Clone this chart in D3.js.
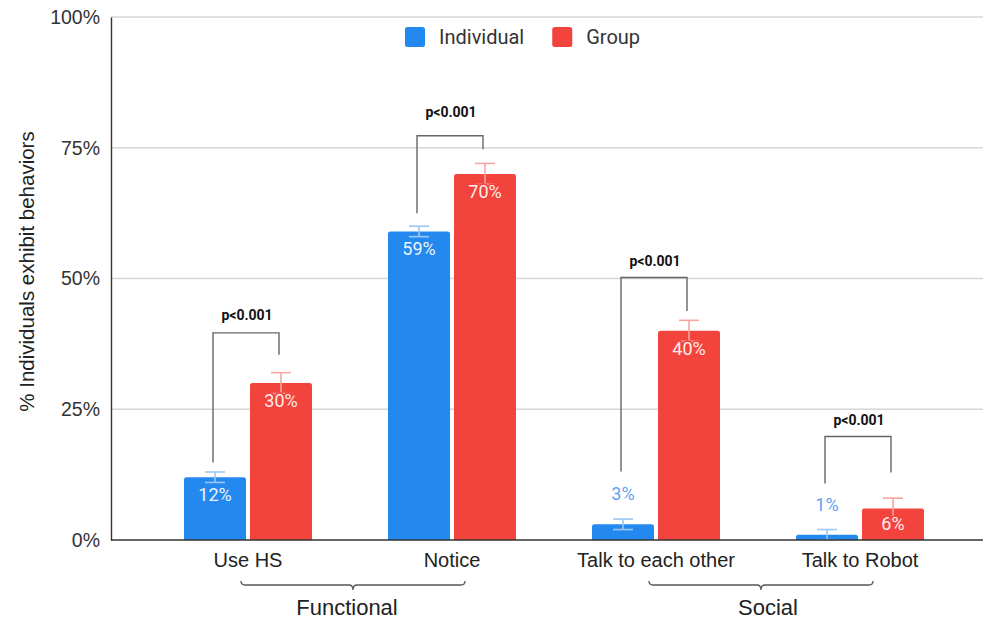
<!DOCTYPE html>
<html>
<head>
<meta charset="utf-8">
<script src="https://cdn.jsdelivr.net/npm/d3@7"></script>
<style>
  html, body { margin: 0; padding: 0; background: #fff; }
  svg { display: block; }
</style>
</head>
<body>
<svg id="chart" width="983" height="619"></svg>
<script>
// ---- data ----
const categories = ["Use HS", "Notice", "Talk to each other", "Talk to Robot"];
const series = ["Individual", "Group"];
const individual = [12, 59, 3, 1];
const group = [30, 70, 40, 6];
const individualErr = [1, 1, 1, 1];
const groupErr = [2, 2, 2, 2];
const yTicks = [0, 25, 50, 75, 100];

// significance brackets (levels in % units)
const pLabels = ["p<0.001", "p<0.001", "p<0.001", "p<0.001"];
const bracketTop = [39.6, 77.3, 50.2, 19.8];
const bracketLeftEnd = [14.8, 62.5, 13.1, 10.8];
const bracketRightEnd = [35.4, 74.7, 43.8, 12.9];
const pLabelLevel = [42.1, 80.9, 52.4, 22.0];

// category groups under the axis
const groupNames = ["Functional", "Social"];
const groupMembers = [["Use HS", "Notice"], ["Talk to each other", "Talk to Robot"]];

const colors = { Individual: "#2389EE", Group: "#F3433D" };
const errColors = { Individual: "#9EC6F7", Group: "#F8A5A0" };

// ---- layout ----
const svg = d3.select("#chart");
const plotLeft = 111, plotRight = 983, plotTop = 17, plotBottom = 540;
const axisFont = "'Liberation Sans', Arial, sans-serif";
const labelFont = "Roboto, 'Liberation Sans', Arial, sans-serif";

const y = d3.scaleLinear().domain([0, 100]).range([plotBottom, plotTop]);
const x0 = d3.scaleBand().domain(categories).range([146, 962]).padding(0);
const x1 = d3.scaleBand().domain(series).range([38, 166]).paddingInner(4 / 66);

const rows = categories.map((c, i) => ({
  cat: c,
  vals: [
    { s: "Individual", v: individual[i], e: individualErr[i] },
    { s: "Group", v: group[i], e: groupErr[i] }
  ]
}));

// gridlines
svg.append("g")
  .selectAll("line")
  .data(yTicks.filter(t => t > 0))
  .join("line")
  .attr("x1", plotLeft).attr("x2", plotRight)
  .attr("y1", d => y(d)).attr("y2", d => y(d))
  .attr("stroke", "#d6d6d6").attr("stroke-width", 1.3);

// y axis
const yAxis = svg.append("g")
  .attr("transform", `translate(${plotLeft},0)`)
  .call(d3.axisLeft(y).tickValues(yTicks).tickSize(0).tickPadding(11).tickFormat(d => d + "%"));
yAxis.select(".domain").attr("stroke", "#333").attr("stroke-width", 1.4);
yAxis.selectAll("text")
  .attr("font-family", axisFont).attr("font-size", "19.5px").attr("fill", "#333");

// y title
svg.append("text")
  .attr("transform", `translate(34,${(plotTop + plotBottom) / 2 - 7}) rotate(-90)`)
  .attr("text-anchor", "middle")
  .attr("font-family", axisFont).attr("font-size", "20.5px").attr("fill", "#222")
  .text("% Individuals exhibit behaviors");

// bars with slightly rounded tops
function barPath(x, w, yTop, yBase, r) {
  const h = yBase - yTop;
  r = Math.min(r, h / 2, w / 2);
  return `M${x},${yBase}V${yTop + r}Q${x},${yTop} ${x + r},${yTop}H${x + w - r}Q${x + w},${yTop} ${x + w},${yTop + r}V${yBase}Z`;
}

const catG = svg.append("g").selectAll("g")
  .data(rows).join("g")
  .attr("transform", d => `translate(${x0(d.cat)},0)`);

catG.selectAll("path.bar")
  .data(d => d.vals).join("path")
  .attr("class", "bar")
  .attr("fill", d => colors[d.s])
  .attr("d", d => barPath(x1(d.s), x1.bandwidth(), y(d.v), y(0), 2.5));

// error bars
const capW = 20;
const errG = catG.selectAll("g.err").data(d => d.vals).join("g")
  .attr("class", "err")
  .attr("stroke", d => errColors[d.s]).attr("stroke-width", 1.6);
errG.append("line")
  .attr("x1", d => x1(d.s) + x1.bandwidth() / 2).attr("x2", d => x1(d.s) + x1.bandwidth() / 2)
  .attr("y1", d => y(Math.max(0, d.v - d.e))).attr("y2", d => y(d.v + d.e));
errG.append("line")
  .attr("x1", d => x1(d.s) + x1.bandwidth() / 2 - capW / 2).attr("x2", d => x1(d.s) + x1.bandwidth() / 2 + capW / 2)
  .attr("y1", d => y(d.v + d.e)).attr("y2", d => y(d.v + d.e));
errG.append("line")
  .attr("x1", d => x1(d.s) + x1.bandwidth() / 2 - capW / 2).attr("x2", d => x1(d.s) + x1.bandwidth() / 2 + capW / 2)
  .attr("y1", d => y(Math.max(0, d.v - d.e))).attr("y2", d => y(Math.max(0, d.v - d.e)));

// value labels: inside the bar when it is tall enough, above otherwise;
// each label carries a halo in its background colour
const outsideColors = { Individual: "#5FA3F3", Group: "#F36B66" };
const isInside = d => y(0) - y(d.v) >= 25;
catG.selectAll("text.val")
  .data(d => d.vals).join("text")
  .attr("class", "val")
  .attr("x", d => x1(d.s) + x1.bandwidth() / 2)
  .attr("y", d => {
    const top = y(d.v);
    if (isInside(d)) return Math.min(top + 24, y(0) - 10);
    return top - 24;
  })
  .attr("text-anchor", "middle")
  .attr("font-family", labelFont).attr("font-size", "18px")
  .attr("fill", d => isInside(d) ? "#FFF3F2" : outsideColors[d.s])
  .attr("fill", d => isInside(d) ? (d.s === "Individual" ? "#EAF3FE" : "#FEEDEC") : outsideColors[d.s])
  .attr("stroke", d => isInside(d) ? colors[d.s] : "#fff")
  .attr("stroke-width", 3.5)
  .attr("stroke-linejoin", "round")
  .attr("paint-order", "stroke")
  .text(d => d.v + "%");

// baseline
svg.append("line")
  .attr("x1", plotLeft).attr("x2", plotRight)
  .attr("y1", y(0)).attr("y2", y(0))
  .attr("stroke", "#333").attr("stroke-width", 1.4);

// significance brackets
const legX = (cat, s) => x0(cat) + x1(s) + x1.bandwidth() / 2 - 2;
const brG = svg.append("g");
categories.forEach((c, i) => {
  const xl = legX(c, "Individual"), xr = legX(c, "Group");
  brG.append("path")
    .attr("d", `M${xl},${y(bracketLeftEnd[i])}V${y(bracketTop[i])}H${xr}V${y(bracketRightEnd[i])}`)
    .attr("fill", "none").attr("stroke", "#666").attr("stroke-width", 1.4);
  brG.append("text")
    .attr("x", x0(c) + x0.bandwidth() / 2 - 1)
    .attr("y", y(pLabelLevel[i]))
    .attr("text-anchor", "middle")
    .attr("font-family", labelFont).attr("font-weight", "bold").attr("font-size", "14px")
    .attr("fill", "#111")
    .text(pLabels[i]);
});

// category labels
svg.append("g").selectAll("text")
  .data(categories).join("text")
  .attr("x", d => x0(d) + x0.bandwidth() / 2)
  .attr("y", 567)
  .attr("text-anchor", "middle")
  .attr("font-family", axisFont).attr("font-size", "20px").attr("fill", "#222")
  .text(d => d);

// group braces and names
const braceY = 585;
groupNames.forEach((g, i) => {
  const [a, b] = groupMembers[i];
  const xa = x0(a) + x0.bandwidth() / 2 - 7;
  const xb = x0(b) + x0.bandwidth() / 2 + 13;
  const xm = (xa + xb) / 2;
  const r = 4;
  svg.append("path")
    .attr("d", `M${xa},${braceY - r}Q${xa},${braceY} ${xa + r},${braceY}H${xm - r}Q${xm},${braceY} ${xm},${braceY + r + 1}Q${xm},${braceY} ${xm + r},${braceY}H${xb - r}Q${xb},${braceY} ${xb},${braceY - r}`)
    .attr("fill", "none").attr("stroke", "#555").attr("stroke-width", 1.3);
  svg.append("text")
    .attr("x", xm + (i === 0 ? -6 : 7))
    .attr("y", 615)
    .attr("text-anchor", "middle")
    .attr("font-family", axisFont).attr("font-size", "22px").attr("fill", "#222")
    .text(g);
});

// legend
const legend = svg.append("g").attr("transform", "translate(405,27)");
let lx = 0;
series.forEach(s => {
  const item = legend.append("g").attr("transform", `translate(${lx},0)`);
  item.append("rect").attr("width", 20).attr("height", 20).attr("rx", 2.5)
    .attr("fill", colors[s]);
  const t = item.append("text").attr("x", 34).attr("y", 17)
    .attr("font-family", labelFont).attr("font-size", "20px").attr("fill", "#333")
    .text(s);
  lx += 34 + t.node().getComputedTextLength() + 28;
});
</script>
</body>
</html>
